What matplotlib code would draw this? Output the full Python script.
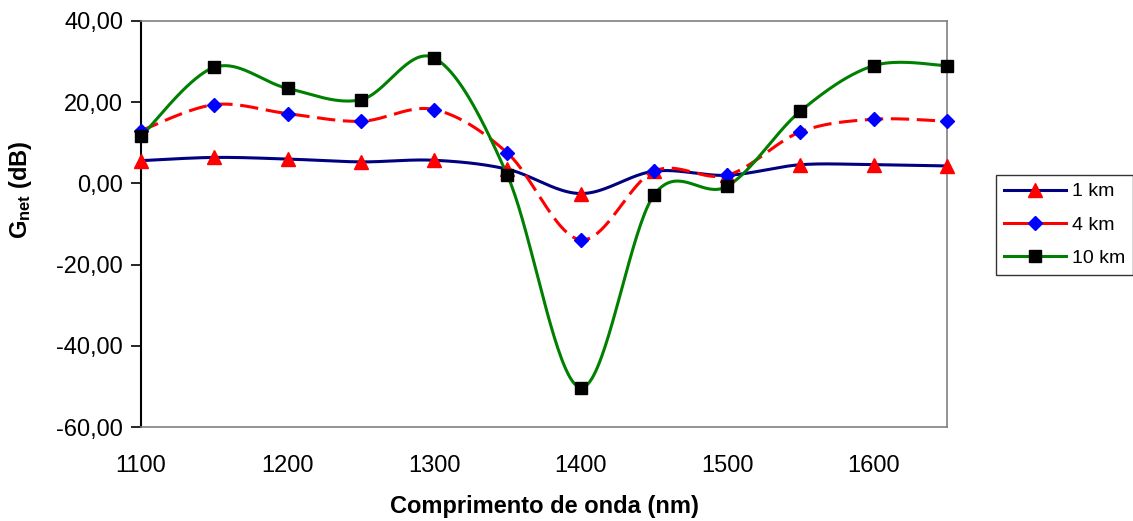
import numpy as np
import matplotlib.pyplot as plt
from matplotlib.ticker import FuncFormatter, MultipleLocator
from matplotlib.lines import Line2D

plt.rcParams['font.family'] = ['Liberation Sans', 'DejaVu Sans']
plt.rcParams['mathtext.fontset'] = 'custom'
plt.rcParams['mathtext.rm'] = 'Liberation Sans'
plt.rcParams['mathtext.bf'] = 'Liberation Sans:bold'

# wavelength (nm)
wavelength = [1100, 1150, 1200, 1250, 1300, 1350, 1400, 1450, 1500, 1550, 1600, 1650]

# net gain (dB) for each fibre length
g_1km = [5.6, 6.4, 6.0, 5.3, 5.7, 3.5, -2.5, 3.0, 2.0, 4.6, 4.6, 4.3]
g_4km = [13.0, 19.4, 17.2, 15.3, 18.2, 7.5, -13.9, 3.0, 2.0, 12.7, 15.8, 15.3]
g_10km = [11.6, 28.6, 23.4, 20.6, 30.9, 2.0, -50.3, -2.9, -0.7, 17.8, 29.0, 29.0]

labels = ['1 km', '4 km', '10 km']


def smooth(xs, ys, n=40):
    # Catmull-Rom style cubic Bezier through every point
    p = np.column_stack([xs, ys]).astype(float)
    p = np.vstack([p[0], p, p[-1]])
    out = []
    t = np.linspace(0, 1, n)[:, None]
    for i in range(1, len(p) - 2):
        p0, p3 = p[i], p[i + 1]
        c1 = p0 + (p[i + 1] - p[i - 1]) / 6.0
        c2 = p3 - (p[i + 2] - p[i]) / 6.0
        seg = ((1 - t) ** 3) * p0 + 3 * ((1 - t) ** 2) * t * c1 \
            + 3 * (1 - t) * t ** 2 * c2 + t ** 3 * p3
        out.append(seg if i == 1 else seg[1:])
    out = np.vstack(out)
    return out[:, 0], out[:, 1]


fig = plt.figure(figsize=(11.33, 5.21), dpi=100)
ax = fig.add_axes([0.1245, 0.1804, 0.7113, 0.7793])

styles = [
    dict(color='#000080', ls='-', marker='^', mfc='#FF0000', mec='#FF0000', ms=10),
    dict(color='#FF0000', ls=(0, (6, 2.5)), marker='D', mfc='#0000FF', mec='#0000FF', ms=7.5),
    dict(color='#008000', ls='-', marker='s', mfc='#000000', mec='#000000', ms=8.5),
]

handles = []
for ys, st, lab in zip([g_1km, g_4km, g_10km], styles, labels):
    sx, sy = smooth(wavelength, ys)
    ax.plot(sx, sy, color=st['color'], ls=st['ls'], lw=2.2, zorder=2)
    ax.plot(wavelength, ys, ls='none', marker=st['marker'], ms=st['ms'],
            mfc=st['mfc'], mec=st['mec'], zorder=3, clip_on=False)
    handles.append(Line2D([], [], color=st['color'], lw=2.2, marker=st['marker'],
                          ms=st['ms'], mfc=st['mfc'], mec=st['mec']))

ax.set_xlim(1100, 1650)
ax.set_ylim(-60, 40)
ax.xaxis.set_major_locator(MultipleLocator(100))
ax.yaxis.set_major_locator(MultipleLocator(20))
ax.yaxis.set_major_formatter(FuncFormatter(lambda v, pos: ('%.2f' % v).replace('.', ',')))

ax.tick_params(axis='y', direction='out', length=7, width=1.2, color='black',
               labelsize=17, pad=6)
ax.tick_params(axis='x', length=0, labelsize=17, pad=20)

for side in ['top', 'right', 'bottom']:
    ax.spines[side].set_color('#808080')
    ax.spines[side].set_linewidth(1.2)
ax.spines['left'].set_color('black')
ax.spines['left'].set_linewidth(1.5)

ax.set_xlabel('Comprimento de onda (nm)', fontsize=17, fontweight='bold')
ax.xaxis.set_label_coords(0.5, -0.168)
ax.set_ylabel(r'$\mathbf{G_{net}}$ (dB)', fontsize=17, fontweight='bold')
ax.yaxis.set_label_coords(-0.133, 0.584)

leg = fig.legend(handles, labels, loc='upper left', bbox_to_anchor=(0.879, 0.664),
                 borderaxespad=0, fontsize=14, frameon=True, fancybox=False,
                 edgecolor='black', handlelength=3.2, borderpad=0.4,
                 labelspacing=0.8, handletextpad=0.3)
leg.get_frame().set_linewidth(1.0)

fig.savefig('out.png', dpi=100)
